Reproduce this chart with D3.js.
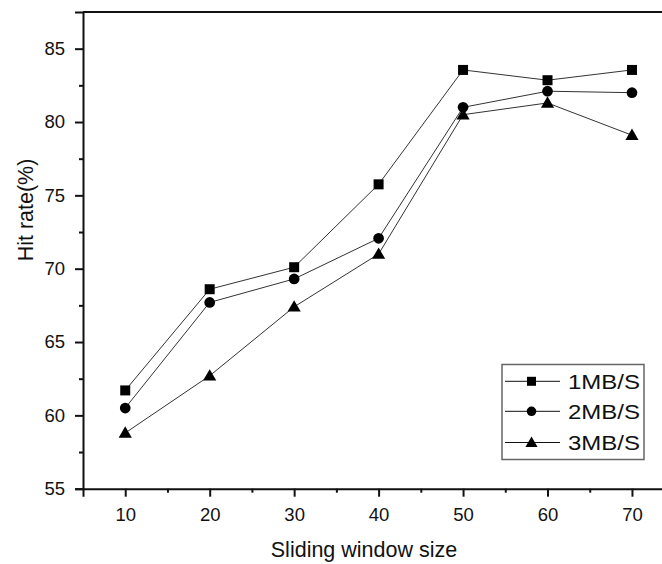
<!DOCTYPE html>
<html>
<head>
<meta charset="utf-8">
<script src="https://cdn.jsdelivr.net/npm/d3@7"></script>
<style>
  html, body { margin: 0; padding: 0; background: #fff; }
  svg { display: block; }
  text { font-family: Arial, "Liberation Sans", sans-serif; fill: #111; }
</style>
</head>
<body>
<svg id="chart" width="662" height="564"></svg>
<script>
const windowSizes = [10, 20, 30, 40, 50, 60, 70];
const series1MB = [61.7, 68.6, 70.1, 75.75, 83.55, 82.85, 83.55];
const series2MB = [60.5, 67.7, 69.3, 72.07, 81.0, 82.1, 82.0];
const series3MB = [58.8, 62.7, 67.4, 71.0, 80.5, 81.3, 79.1];
const seriesNames = ["1MB/S", "2MB/S", "3MB/S"];
const seriesSymbols = ["square", "circle", "triangle"];
const xTickValues = [10, 20, 30, 40, 50, 60, 70];
const yTickValues = [55, 60, 65, 70, 75, 80, 85];
const xTitle = "Sliding window size";
const yTitle = "Hit rate(%)";

const allSeries = [series1MB, series2MB, series3MB];

const svg = d3.select("#chart");
const pLeft = 83, pRight = 674.2, pTop = 12, pBottom = 488.7;

const x = d3.scaleLinear().domain([5, 75]).range([pLeft, pRight]);
const y = d3.scaleLinear().domain([55, 87.5]).range([pBottom, pTop]);

// frame (top and right)
svg.append("path")
  .attr("d", `M${pLeft},${pTop}H${pRight}V${pBottom}`)
  .attr("fill", "none").attr("stroke", "#111").attr("stroke-width", 2);

// minor ticks
const xMinor = d3.axisBottom(x).tickValues(d3.range(15, 75, 10)).tickSize(4).tickFormat("");
const yMinor = d3.axisLeft(y).tickValues(d3.range(57.5, 87.5, 5)).tickSize(4).tickFormat("");

const gxm = svg.append("g").attr("transform", `translate(0,${pBottom})`).call(xMinor);
const gym = svg.append("g").attr("transform", `translate(${pLeft},0)`).call(yMinor);
[gxm, gym].forEach(g => {
  g.select(".domain").remove();
  g.selectAll("line").attr("stroke", "#111").attr("stroke-width", 2);
});

// major axes
const xAxis = d3.axisBottom(x).tickValues(xTickValues).tickSize(8).tickPadding(11).tickFormat(d3.format("d"));
const yAxis = d3.axisLeft(y).tickValues(yTickValues).tickSize(8).tickPadding(10).tickFormat(d3.format("d"));

const gx = svg.append("g").attr("transform", `translate(0,${pBottom})`).call(xAxis);
const gy = svg.append("g").attr("transform", `translate(${pLeft},0)`).call(yAxis);
[gx, gy].forEach(g => {
  g.select(".domain").attr("stroke", "#111").attr("stroke-width", 2);
  g.selectAll(".tick line").attr("stroke", "#111").attr("stroke-width", 2);
  g.selectAll(".tick text").style("font-family", "Arial, 'Liberation Sans', sans-serif")
    .style("font-size", "18.5px").attr("fill", "#111");
});

// axis titles
svg.append("text")
  .attr("x", 364).attr("y", 557)
  .attr("text-anchor", "middle")
  .style("font-size", "21.5px")
  .text(xTitle);
svg.append("text")
  .attr("transform", `translate(33,210) rotate(-90)`)
  .attr("text-anchor", "middle")
  .style("font-size", "21.5px")
  .text(yTitle);

// symbols
const symbolMap = {
  square: d3.symbolSquare,
  circle: d3.symbolCircle,
  triangle: d3.symbolTriangle
};
const symbolSizes = { square: 100, circle: 90, triangle: 75 };
const legendSymbolSizes = { square: 81, circle: 72, triangle: 64 };

const line = d3.line().x((d, i) => x(windowSizes[i])).y(d => y(d));

allSeries.forEach((vals, si) => {
  svg.append("path")
    .datum(vals)
    .attr("d", line)
    .attr("fill", "none")
    .attr("stroke", "#333")
    .attr("stroke-width", 1);
});

allSeries.forEach((vals, si) => {
  const sym = seriesSymbols[si];
  svg.append("g").selectAll("path")
    .data(vals)
    .join("path")
    .attr("transform", (d, i) => `translate(${x(windowSizes[i])},${y(d) + (sym === "triangle" ? 1 : 0)})`)
    .attr("d", d3.symbol().type(symbolMap[sym]).size(symbolSizes[sym]))
    .attr("fill", "#000");
});

// legend
const lg = svg.append("g");
lg.append("rect")
  .attr("x", 502).attr("y", 364.5).attr("width", 142).attr("height", 95)
  .attr("fill", "#fff").attr("stroke", "#666").attr("stroke-width", 1.5);
const rowY = [381.3, 411.3, 442.5];
seriesNames.forEach((name, i) => {
  const sym = seriesSymbols[i];
  lg.append("line")
    .attr("x1", 505).attr("x2", 560).attr("y1", rowY[i]).attr("y2", rowY[i])
    .attr("stroke", "#111").attr("stroke-width", 1);
  lg.append("path")
    .attr("transform", `translate(531.5,${rowY[i] + (sym === "triangle" ? 1 : 0)})`)
    .attr("d", d3.symbol().type(symbolMap[sym]).size(legendSymbolSizes[sym]))
    .attr("fill", "#000");
  lg.append("text")
    .attr("x", 568).attr("y", rowY[i] + 7.2)
    .attr("textLength", 72)
    .attr("lengthAdjust", "spacingAndGlyphs")
    .style("font-size", "21px")
    .text(name);
});
</script>
</body>
</html>
